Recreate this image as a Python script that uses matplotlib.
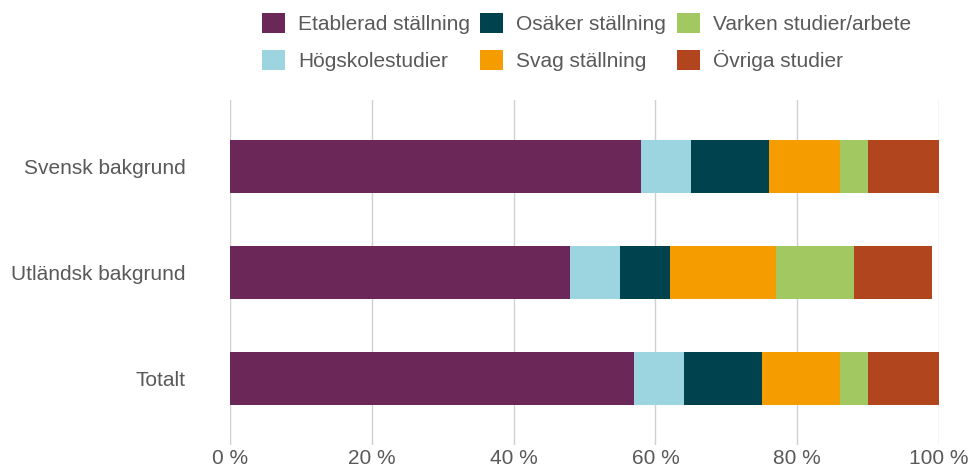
import matplotlib

matplotlib.use("Agg")
import matplotlib.pyplot as plt
import numpy as np

categories = ["Svensk bakgrund", "Utländsk bakgrund", "Totalt"]
series_names = [
    "Etablerad ställning",
    "Högskolestudier",
    "Osäker ställning",
    "Svag ställning",
    "Varken studier/arbete",
    "Övriga studier",
]
etablerad = [58, 48, 57]
hogskole = [7, 7, 7]
osaker = [11, 7, 11]
svag = [10, 15, 11]
varken = [4, 11, 4]
ovriga = [10, 11, 10]
xticks = [0, 20, 40, 60, 80, 100]

colors = ["#6a2758", "#9cd5e0", "#00424d", "#f49c00", "#a2c862", "#b1451d"]
text_color = "#595959"

plt.rcParams["font.family"] = ["Liberation Sans", "DejaVu Sans"]

fig = plt.figure(figsize=(9.78, 4.70), dpi=100)
ax = fig.add_axes([230 / 978, 25 / 470, 709 / 978, 345 / 470])

y = np.arange(len(categories))
left = np.zeros(len(categories))
for name, vals, c in zip(series_names, [etablerad, hogskole, osaker, svag, varken, ovriga], colors):
    ax.barh(y, vals, left=left, height=0.5, color=c, label=name, zorder=3)
    left += np.array(vals)

ax.set_xlim(0, 100)
ax.set_ylim(2.625, -0.625)
ax.set_xticks(xticks)
ax.set_xticklabels([f"{t} %" for t in xticks])
ax.set_yticks(y)
ax.set_yticklabels(categories)
ax.tick_params(axis="both", length=0, labelsize=15, colors=text_color)
ax.tick_params(axis="x", pad=3)
ax.tick_params(axis="y", pad=32)
ax.grid(axis="x", color="#d0d0d0", lw=1, zorder=0)
ax.grid(axis="y", visible=False)
for s in ax.spines.values():
    s.set_visible(False)

leg = fig.legend(
    loc="upper left",
    bbox_to_anchor=(262 / 978, 457 / 470),
    ncol=3,
    frameon=False,
    fontsize=15,
    borderpad=0,
    borderaxespad=0,
    handlelength=1.1,
    handleheight=1.1,
    handletextpad=0.63,
    columnspacing=0.5,
    labelspacing=0.75,
)
for t in leg.get_texts():
    t.set_color(text_color)

fig.savefig("out.png", dpi=100)
